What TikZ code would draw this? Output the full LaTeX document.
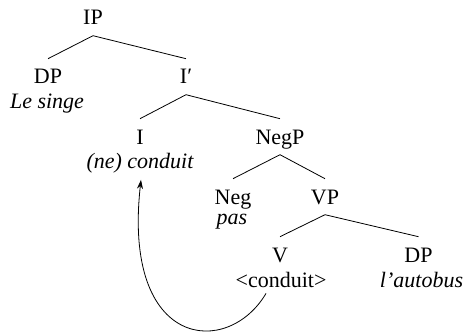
\documentclass[tikz,border=0pt]{standalone}
\usepackage{fontspec}
\setmainfont{Liberation Serif}
\usetikzlibrary{arrows.meta}
\begin{document}
\begin{tikzpicture}[x=1pt,y=-1pt,
  cat/.style={anchor=base,inner xsep=0pt,inner ysep=10.5pt,text height=14.6pt,text depth=0pt,font=\fontsize{22}{26}\selectfont},
  word/.style={anchor=base,inner sep=0pt,font=\fontsize{22}{26}\selectfont\itshape},
  branch/.style={line width=0.8pt},
  move/.style={line width=0.8pt,-{Stealth[length=9pt,width=6pt]}}]
\useasboundingbox (0,0) rectangle (465,334);
\node[cat] (IP) at (93,25) {IP};
\node[cat] (DP) at (48,84) {DP};
\node[word] (DPw) at (47,108) {Le singe};
\node[cat] (Ib) at (186,84) {I′};
\node[cat] (I) at (140,144) {I};
\node[word] (Iw) at (140,168) {(ne) conduit};
\node[cat] (NegP) at (280,144) {NegP};
\node[cat] (Neg) at (233,204) {Neg};
\node[word] (Negw) at (232,224) {pas};
\node[cat] (VP) at (325,204) {VP};
\node[cat] (V) at (280,262) {V};
\node[word,font=\fontsize{22}{26}\selectfont\upshape] (Vw) at (281,287) {<conduit>};
\node[cat] (DP2) at (418.5,262) {DP};
\node[word] (DP2w) at (421.5,287) {l’autobus};
\draw[branch] (DP.north) -- (IP.south) -- (Ib.north);
\draw[branch] (I.north) -- (Ib.south) -- (NegP.north);
\draw[branch] (Neg.north) -- (NegP.south) -- (VP.north);
\draw[branch] (V.north) -- (VP.south) -- (DP2.north);
\draw[move] ([xshift=-15pt,yshift=-6pt]Vw.south) .. controls (228,358) and (122,350) .. ([xshift=1pt,yshift=-7pt]Iw.south);
\end{tikzpicture}
\end{document}
